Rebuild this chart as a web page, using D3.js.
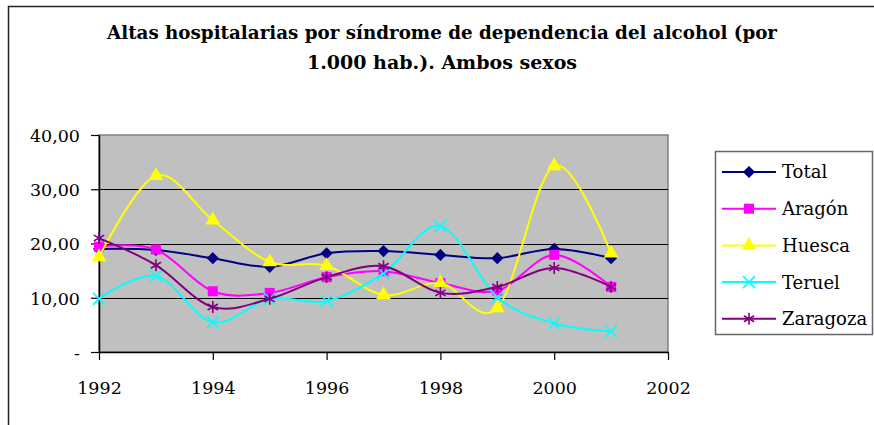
<!DOCTYPE html>
<html>
<head>
<meta charset="utf-8">
<script src="https://cdn.jsdelivr.net/npm/d3@7"></script>
<style>
  html, body { margin: 0; padding: 0; background: #fff; }
</style>
</head>
<body>
<div id="chart"></div>
<script>
(function () {
  "use strict";

  const years = [1992, 1993, 1994, 1995, 1996, 1997, 1998, 1999, 2000, 2001];
  const seriesNames = ["Total", "Aragón", "Huesca", "Teruel", "Zaragoza"];
  const total    = [19.0, 18.8, 17.3, 15.7, 18.2, 18.6, 17.9, 17.3, 19.0, 17.3];
  const aragon   = [19.4, 18.9, 11.2, 10.9, 13.8, 14.9, 12.7, 11.3, 17.9, 12.0];
  const huesca   = [17.5, 32.5, 24.3, 16.6, 15.9, 10.5, 12.7, 8.1, 34.3, 18.2];
  const teruel   = [9.8, 14.0, 5.5, 9.8, 9.4, 14.5, 23.2, 10.1, 5.3, 3.8];
  const zaragoza = [21.0, 16.0, 8.3, 9.8, 13.8, 15.8, 10.9, 12.0, 15.5, 12.0];
  const yTicks = [0, 10, 20, 30, 40];
  const xTicks = [1992, 1994, 1996, 1998, 2000, 2002];
  const titleLines = [
    "Altas hospitalarias por síndrome de dependencia del alcohol (por",
    "1.000 hab.). Ambos sexos"
  ];

  // only serif face in the sandbox
  const FONT = "'DejaVu Serif', serif";
  const W = 874, H = 425;
  const plot = { left: 99, right: 668, top: 135, bottom: 352 };

  const colors = ["#000080", "#FF00FF", "#FFFF00", "#00FFFF", "#800080"];
  const seriesValues = [total, aragon, huesca, teruel, zaragoza];
  const symbols = [
    { type: d3.symbolDiamond2, size: 95, fill: true },
    { type: d3.symbolSquare, size: 100, fill: true },
    { type: d3.symbolTriangle, size: 95, fill: true },
    { type: d3.symbolTimes, size: 95, fill: false },
    { type: d3.symbolAsterisk, size: 100, fill: false }
  ];

  const svg = d3.select("#chart").append("svg")
    .attr("width", W)
    .attr("height", H)
    .attr("viewBox", `0 0 ${W} ${H}`)
    .style("display", "block");

  // outer chart border (right and bottom edges fall outside the picture)
  svg.append("rect")
    .attr("x", 8.5).attr("y", 6.5)
    .attr("width", 900).attr("height", 500)
    .attr("fill", "#fff")
    .attr("stroke", "#222")
    .attr("stroke-width", 1.5);

  // title
  const titleWidths = [670, 270];
  svg.append("g").selectAll("text")
    .data(titleLines)
    .enter().append("text")
    .attr("x", 442)
    .attr("y", (d, i) => 39 + i * 30)
    .attr("text-anchor", "middle")
    .style("font-family", FONT)
    .attr("font-size", 19)
    .attr("font-weight", "bold")
    .attr("textLength", (d, i) => titleWidths[i])
    .attr("lengthAdjust", "spacingAndGlyphs")
    .attr("fill", "#000")
    .text(d => d);

  const x = d3.scaleLinear().domain([1992, 2002]).range([plot.left, plot.right]);
  const y = d3.scaleLinear().domain([0, 40]).range([plot.bottom, plot.top]);

  // plot area
  svg.append("rect")
    .attr("x", plot.left).attr("y", plot.top)
    .attr("width", plot.right - plot.left)
    .attr("height", plot.bottom - plot.top)
    .attr("fill", "#C0C0C0")
    .attr("stroke", "#808080")
    .attr("stroke-width", 1.5);

  // gridlines
  svg.append("g").selectAll("line")
    .data(yTicks.filter(d => d > 0 && d < 40))
    .enter().append("line")
    .attr("x1", plot.left).attr("x2", plot.right)
    .attr("y1", d => Math.round(y(d)) + 0.5).attr("y2", d => Math.round(y(d)) + 0.5)
    .attr("stroke", "#000")
    .attr("stroke-width", 1);

  const fmt = d => d === 0 ? "-" : d3.format(".2f")(d).replace(".", ",");

  const yAxis = svg.append("g")
    .attr("transform", `translate(${plot.left},0)`)
    .call(d3.axisLeft(y).tickValues(yTicks).tickFormat(fmt).tickSize(8).tickSizeOuter(0).tickPadding(11));

  const xAxis = svg.append("g")
    .attr("transform", `translate(0,${plot.bottom})`)
    .call(d3.axisBottom(x).tickValues(xTicks).tickFormat(d3.format("d")).tickSize(8).tickSizeOuter(0).tickPadding(22));

  [yAxis, xAxis].forEach(ax => {
    ax.attr("font-family", null);
    ax.select(".domain").attr("stroke", "#000").attr("stroke-width", 1.5);
    ax.selectAll(".tick line").attr("stroke", "#000").attr("stroke-width", 1.2);
    ax.selectAll(".tick text")
      .style("font-family", FONT)
      .attr("font-size", 17.5)
      .attr("fill", "#000");
  });
  yAxis.selectAll(".tick text").attr("dy", "0.36em");

  // series, smoothed like the spreadsheet lines
  const line = d3.line()
    .x((d, i) => x(years[i]))
    .y(d => y(d))
    .curve(d3.curveCatmullRom.alpha(0));

  const seriesG = svg.append("g");
  seriesValues.forEach((vals, s) => {
    const g = seriesG.append("g");
    g.append("path")
      .datum(vals)
      .attr("d", line)
      .attr("fill", "none")
      .attr("stroke", colors[s])
      .attr("stroke-width", 2);
    const sym = symbols[s];
    g.selectAll("path.m")
      .data(vals)
      .enter().append("path")
      .attr("class", "m")
      .attr("transform", (d, i) => `translate(${x(years[i])},${y(d)})`)
      .attr("d", d3.symbol().type(sym.type).size(sym.size))
      .attr("fill", sym.fill ? colors[s] : "none")
      .attr("stroke", colors[s])
      .attr("stroke-width", sym.fill ? 0 : 1.6);
  });

  // legend
  const legend = svg.append("g");
  legend.append("rect")
    .attr("x", 715.5).attr("y", 151.5)
    .attr("width", 157).attr("height", 183)
    .attr("fill", "#fff")
    .attr("stroke", "#666")
    .attr("stroke-width", 1.5);

  const items = legend.selectAll("g.item")
    .data(seriesNames)
    .enter().append("g")
    .attr("class", "item")
    .attr("transform", (d, i) => `translate(0,${172 + i * 36.7})`);

  items.append("line")
    .attr("x1", 722).attr("x2", 776)
    .attr("stroke", (d, i) => colors[i])
    .attr("stroke-width", 2);

  items.append("path")
    .attr("transform", "translate(749,0)")
    .attr("d", (d, i) => d3.symbol().type(symbols[i].type).size(symbols[i].size)())
    .attr("fill", (d, i) => symbols[i].fill ? colors[i] : "none")
    .attr("stroke", (d, i) => colors[i])
    .attr("stroke-width", (d, i) => symbols[i].fill ? 0 : 1.6);

  items.append("text")
    .attr("x", 782)
    .attr("dy", "0.36em")
    .style("font-family", FONT)
    .attr("font-size", 18)
    .attr("fill", "#000")
    .text(d => d);
})();
</script>
</body>
</html>
